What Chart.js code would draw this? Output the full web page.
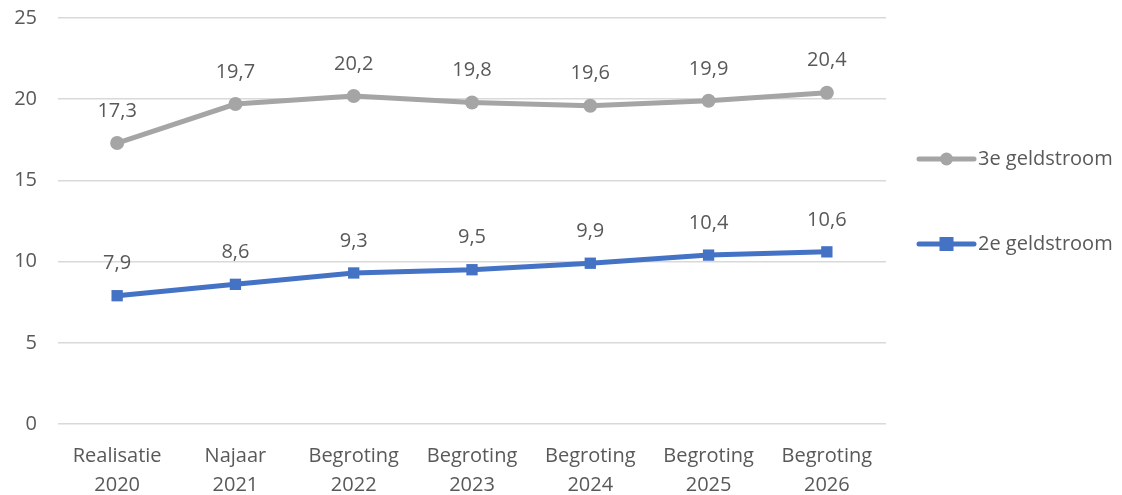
<!DOCTYPE html>
<html>
<head>
<meta charset="utf-8">
<script src="https://cdn.jsdelivr.net/npm/chart.js@4/dist/chart.umd.min.js"></script>
<style>
  html, body { margin: 0; padding: 0; background: #fff; }
  #wrap { width: 1122px; height: 495px; }
</style>
</head>
<body>
<div id="wrap"><canvas id="chart" width="1122" height="495"></canvas></div>
<script>
const categories = [
  ["Realisatie", "2020"], ["Najaar", "2021"], ["Begroting", "2022"],
  ["Begroting", "2023"], ["Begroting", "2024"], ["Begroting", "2025"], ["Begroting", "2026"]
];
const derdeGeldstroom = [17.3, 19.7, 20.2, 19.8, 19.6, 19.9, 20.4];
const tweedeGeldstroom = [7.9, 8.6, 9.3, 9.5, 9.9, 10.4, 10.6];
const yTicks = [0, 5, 10, 15, 20, 25];

const FONT = "'Open Sans', sans-serif";
const TEXT = "#595959";
const SIZE = 20;

const fmt = v => v.toFixed(1).replace(".", ",");

// value labels above every point
const valueLabels = {
  id: "valueLabels",
  afterDatasetsDraw(chart) {
    const ctx = chart.ctx;
    ctx.save();
    ctx.font = SIZE + "px " + FONT;
    ctx.fillStyle = TEXT;
    ctx.textAlign = "center";
    ctx.textBaseline = "middle";
    chart.data.datasets.forEach((ds, i) => {
      chart.getDatasetMeta(i).data.forEach((pt, j) => {
        ctx.fillText(fmt(ds.data[j]), pt.x, pt.y - 32);
      });
    });
    ctx.restore();
  }
};

// legend on the right: line with marker + label
const sideLegend = {
  id: "sideLegend",
  afterDraw(chart) {
    const ctx = chart.ctx;
    const rows = [{ i: 0, y: 159 }, { i: 1, y: 244 }];
    ctx.save();
    rows.forEach(r => {
      const ds = chart.data.datasets[r.i];
      const x0 = 919, x1 = 974, xm = (x0 + x1) / 2;
      ctx.strokeStyle = ds.borderColor;
      ctx.lineWidth = 5;
      ctx.lineCap = "round";
      ctx.beginPath();
      ctx.moveTo(x0, r.y);
      ctx.lineTo(x1, r.y);
      ctx.stroke();
      ctx.fillStyle = ds.pointBackgroundColor;
      if (ds.pointStyle === "rect") {
        ctx.fillRect(xm - 7, r.y - 7, 14, 14);
      } else {
        ctx.beginPath();
        ctx.arc(xm, r.y, 6.5, 0, Math.PI * 2);
        ctx.fill();
      }
      ctx.font = SIZE + "px " + FONT;
      ctx.fillStyle = TEXT;
      ctx.textAlign = "left";
      ctx.textBaseline = "middle";
      ctx.fillText(ds.label, x1 + 4, r.y);
    });
    ctx.restore();
  }
};

new Chart(document.getElementById("chart"), {
  type: "line",
  data: {
    labels: categories,
    datasets: [
      {
        label: "3e geldstroom",
        data: derdeGeldstroom,
        borderColor: "#a5a5a5",
        backgroundColor: "#a5a5a5",
        pointBackgroundColor: "#a5a5a5",
        pointBorderWidth: 0,
        pointStyle: "circle",
        pointRadius: 7,
        borderWidth: 5,
        tension: 0
      },
      {
        label: "2e geldstroom",
        data: tweedeGeldstroom,
        borderColor: "#4472c4",
        backgroundColor: "#4472c4",
        pointBackgroundColor: "#4472c4",
        pointBorderWidth: 0,
        pointStyle: "rect",
        pointRadius: 8,
        borderWidth: 5,
        tension: 0
      }
    ]
  },
  options: {
    responsive: false,
    animation: false,
    layout: { padding: { top: 18, right: 236, left: 0, bottom: 0 } },
    plugins: { legend: { display: false }, tooltip: { enabled: false } },
    scales: {
      x: {
        offset: true,
        grid: { display: false, drawTicks: false },
        border: { display: false },
        ticks: { color: TEXT, font: { size: SIZE, family: FONT, lineHeight: 1.45 }, padding: 18, maxRotation: 0, autoSkip: false },
        afterFit(s) { s.height = 71; s.paddingLeft = 0; s.paddingRight = 0; }
      },
      y: {
        min: 0,
        max: 25,
        afterBuildTicks(s) { s.ticks = yTicks.map(v => ({ value: v })); },
        grid: { color: "#d9d9d9", lineWidth: 1.5, drawTicks: false },
        border: { display: false },
        ticks: { color: TEXT, font: { size: SIZE, family: FONT }, padding: 21 },
        afterFit(s) { s.width = 58; s.paddingTop = 0; s.paddingBottom = 0; }
      }
    }
  },
  plugins: [valueLabels, sideLegend]
});
</script>
</body>
</html>
